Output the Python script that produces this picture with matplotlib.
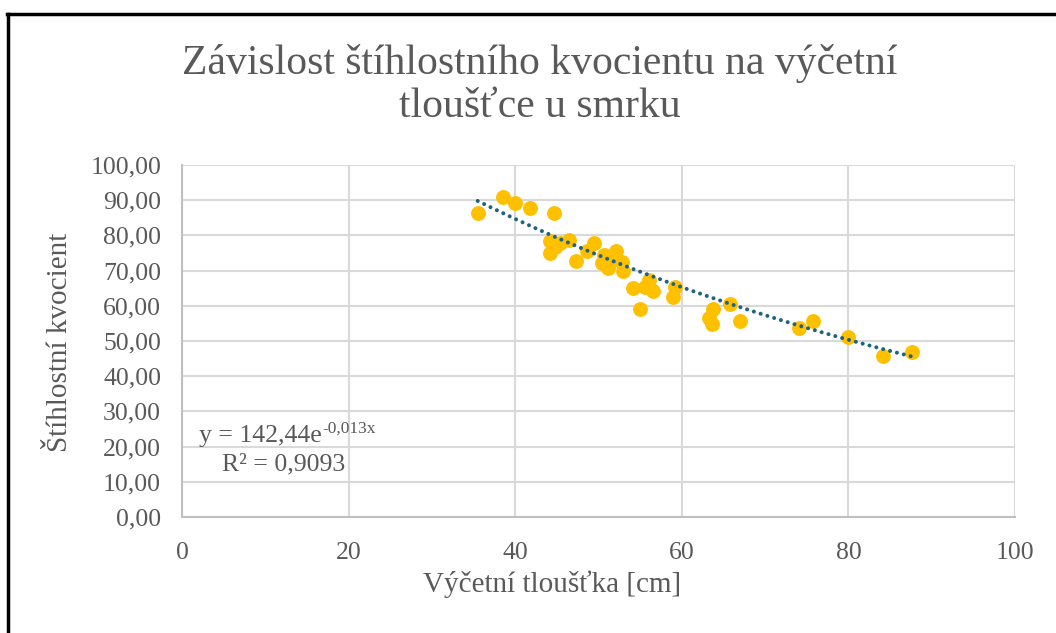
import numpy as np
import matplotlib
matplotlib.use("Agg")
import matplotlib.pyplot as plt
from matplotlib.ticker import FuncFormatter, MultipleLocator
from matplotlib.lines import Line2D

# ---- data ----
diameter = [35.5, 38.5, 40.0, 41.8, 44.6, 44.2, 44.2, 44.8, 45.4, 46.4,
            47.3, 48.6, 49.5, 50.7, 50.4, 51.2, 52.1, 52.8, 52.9, 51.6,
            54.2, 55.0, 56.1, 56.5, 55.6, 59.2, 59.0, 63.7, 63.3, 63.6,
            65.8, 67.0, 74.1, 75.7, 80.0, 84.2, 87.6]
slenderness = [86.5, 91.0, 89.3, 87.8, 86.4, 78.4, 74.9, 76.8, 77.8, 78.7,
               72.6, 75.6, 77.9, 74.4, 72.2, 70.6, 75.6, 72.5, 70.0, 73.0,
               65.0, 59.1, 67.3, 64.3, 65.3, 65.4, 62.6, 59.0, 56.5, 54.8,
               60.4, 55.7, 53.6, 55.7, 51.2, 45.8, 47.0]
trend_a = 142.44
trend_b = -0.013
title = "Závislost štíhlostního kvocientu na výčetní\ntloušťce u smrku"
xlabel = "Výčetní tloušťka [cm]"
ylabel = "Štíhlostní kvocient"
eq_main = "y = 142,44e"
eq_sup = "-0,013x"
r2_text = "R² = 0,9093"

plt.rcParams['font.family'] = ['Liberation Serif', 'DejaVu Serif']

W, H = 1056, 633
fig = plt.figure(figsize=(W / 100, H / 100), dpi=100)
txt = '#595959'

# outer border (left and top only visible)
fig.add_artist(Line2D([7.5 / W, 7.5 / W], [0, 1 - 13.5 / H], transform=fig.transFigure,
                      color='black', lw=2.5))
fig.add_artist(Line2D([6.5 / W, 1], [1 - 14 / H, 1 - 14 / H], transform=fig.transFigure,
                      color='black', lw=2.5))

ax = fig.add_axes([182 / W, 1 - 517 / H, (1015 - 182) / W, (517 - 165) / H])
ax.set_xlim(0, 100)
ax.set_ylim(0, 100)
ax.xaxis.set_major_locator(MultipleLocator(20))
ax.yaxis.set_major_locator(MultipleLocator(10))
ax.grid(True, color='#d9d9d9', lw=1.5)
ax.set_axisbelow(True)
for s in ['top', 'right']:
    ax.spines[s].set_visible(False)
for s in ['left', 'bottom']:
    ax.spines[s].set_color('#bfbfbf')
    ax.spines[s].set_linewidth(1.5)
ax.tick_params(length=0, labelsize=18.5, labelcolor=txt)
ax.tick_params(axis='y', pad=15)
ax.tick_params(axis='x', pad=18)
ax.yaxis.set_major_formatter(FuncFormatter(lambda v, p: f"{v:.2f}".replace('.', ',')))
ax.xaxis.set_major_formatter(FuncFormatter(lambda v, p: f"{v:.0f}"))

ax.scatter(diameter, slenderness, s=115, color='#FFC000', zorder=3, linewidths=0)

xs = np.linspace(min(diameter), max(diameter), 300)
ax.plot(xs, trend_a * np.exp(trend_b * xs), color='#1f6383', lw=2.9,
        linestyle=(0, (0.01, 1.75)), dash_capstyle='round', zorder=4)

fig.text(552 / W, 1 - 584 / H, xlabel, fontsize=21, color=txt, ha='center', va='center')
fig.text(60 / W, 1 - 342 / H, ylabel, fontsize=21, color=txt, ha='center', va='center',
         rotation=90)

fig.text(540 / W, 1 - 85 / H, title, ha='center', va='center', fontsize=30,
         color=txt, linespacing=1.13)

# trendline equation
t = fig.text(199 / W, 1 - 436 / H, eq_main, fontsize=18.5, color=txt, ha='left', va='center')
fig.canvas.draw()
bb = t.get_window_extent()
fig.text((bb.x1 + 1) / W, 1 - 429 / H, eq_sup, fontsize=12.5, color=txt,
         ha='left', va='center')
fig.text(222 / W, 1 - 464 / H, r2_text, fontsize=18.5, color=txt, ha='left', va='center')

fig.savefig('out.png', dpi=100)
